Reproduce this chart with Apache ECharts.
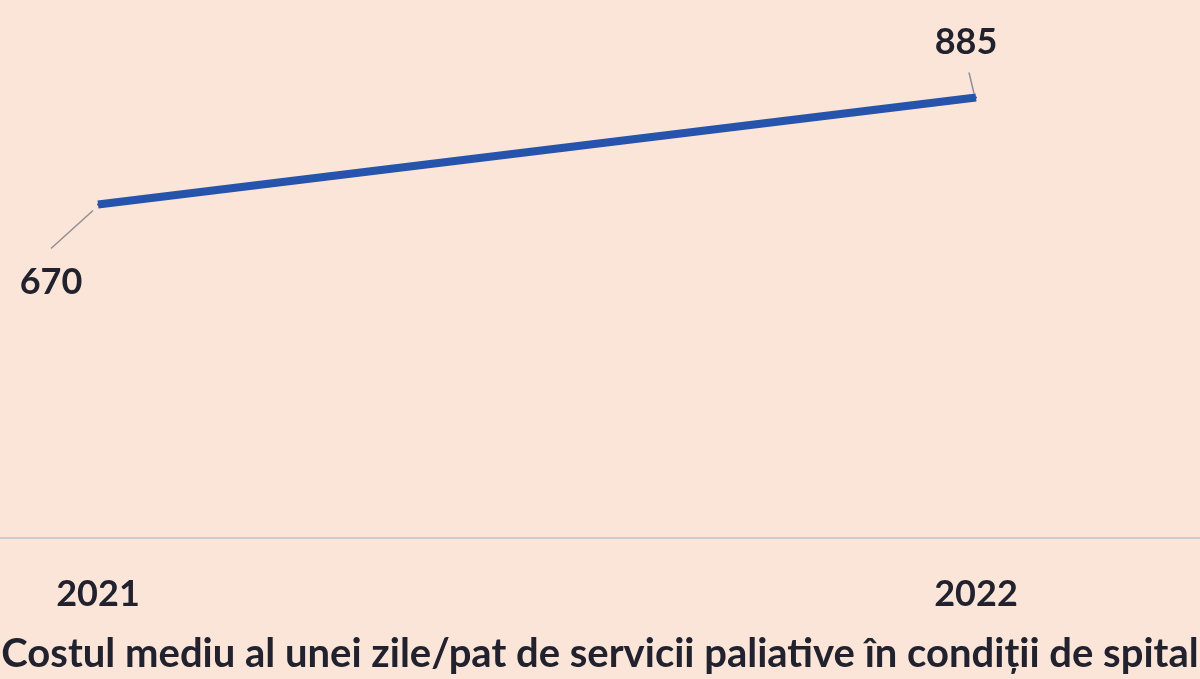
<!DOCTYPE html>
<html>
<head>
<meta charset="utf-8">
<script src="https://cdn.jsdelivr.net/npm/echarts@6/dist/echarts.min.js"></script>
<style>
  html, body { margin: 0; padding: 0; background: #fbe5d8; }
  #chart { width: 1200px; height: 679px; }
</style>
</head>
<body>
<div id="chart"></div>
<script>
var years = ["2021", "2022"];
var costs = [670, 885];
var axisTitle = "Costul mediu al unei zile/pat de servicii paliative în condiții de spital";

var myChart = echarts.init(document.getElementById("chart"));

// where each value label sits, relative to its point
var labelOffsets = [[-47, 78], [-10, -55]];
// leader line ends, relative to the point: [start, end]
var leaderOffsets = [
  [[-47, 44], [-5, 6]],
  [[-7, -25], [-2, -4]]
];

var seriesData = costs.map(function (v, i) {
  return {
    value: v,
    label: { offset: labelOffsets[i] }
  };
});

myChart.setOption({
  backgroundColor: "#fbe5d8",
  animation: false,
  title: {
    text: axisTitle,
    left: "center",
    top: 629,
    textStyle: {
      fontFamily: "Lato",
      fontSize: 40,
      fontWeight: "bold",
      color: "#22222e"
    }
  },
  grid: { left: 98, right: 224, top: 90, bottom: 141 },
  xAxis: {
    type: "category",
    data: years,
    boundaryGap: false,
    axisLine: { show: false },
    axisTick: { show: false },
    axisLabel: {
      margin: 38,
      fontFamily: "Lato",
      fontSize: 36,
      fontWeight: "bold",
      color: "#22222e"
    }
  },
  yAxis: {
    type: "value",
    min: 0,
    max: 900,
    show: false,
    splitLine: { show: false }
  },
  series: [
    {
      type: "line",
      data: seriesData,
      symbol: "circle",
      symbolSize: 2,
      itemStyle: { color: "#2653ab" },
      lineStyle: { color: "#2653ab", width: 8 },
      label: {
        show: true,
        position: "inside",
        fontFamily: "Lato",
        fontSize: 36,
        fontWeight: "bold",
        color: "#22222e"
      }
    }
  ]
});

// axis line across the whole width and the label leader lines,
// placed from the chart's own scales
var graphics = [];
var base = myChart.convertToPixel({ gridIndex: 0 }, [0, 0]);
graphics.push({
  type: "line",
  shape: { x1: 0, y1: base[1], x2: 1200, y2: base[1] },
  style: { stroke: "#c9ccd3", lineWidth: 2 },
  z: 1
});
costs.forEach(function (v, i) {
  var p = myChart.convertToPixel({ gridIndex: 0 }, [i, v]);
  var o = leaderOffsets[i];
  graphics.push({
    type: "line",
    shape: {
      x1: p[0] + o[0][0], y1: p[1] + o[0][1],
      x2: p[0] + o[1][0], y2: p[1] + o[1][1]
    },
    style: { stroke: "#8f8f96", lineWidth: 1.5 },
    z: 5
  });
});
myChart.setOption({ graphic: graphics });
</script>
</body>
</html>
